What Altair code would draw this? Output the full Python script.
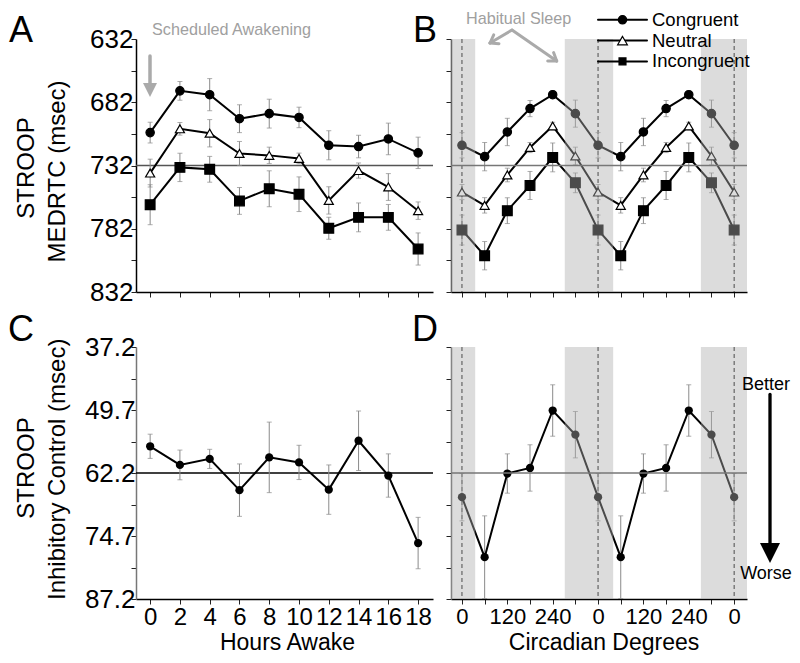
import math
import altair as alt
import pandas as pd

FONT = "Liberation Sans"
ERR = "#8a8a8a"
GREY_TXT = "#a0a0a0"

# ---------------- data ----------------
conditions = ["Congruent", "Neutral", "Incongruent"]
cond_shapes = ["circle", "triangle-up", "square"]
cond_fills = ["black", "white", "black"]
cond_sizes = [70, 95, 48]

hours = [0, 2, 4, 6, 8, 10, 12, 14, 16, 18]
a_congruent = [706, 673, 676, 695, 691, 694, 716, 717, 711, 722]
a_congruent_err = [8.2, 7.4, 12.7, 11.0, 11.4, 8.1, 11.5, 8.9, 12.5, 12.4]
a_neutral = [738, 703, 706.5, 722.5, 724, 726.4, 759.6, 736, 749, 767.7]
a_neutral_err = [11.0, 5.0, 10.8, 9.5, 6.5, 4.2, 10.8, 6.0, 10.6, 6.9]
a_incongruent = [763, 733.5, 735, 760, 750.4, 754.7, 781.6, 773, 773, 798]
a_incongruent_err = [15.8, 11.2, 10.2, 10.6, 14.2, 13.7, 8.7, 11.4, 10.2, 12.7]

phase = [0, 60, 120, 180, 240, 300]
b_congruent = [716, 725, 705.5, 687, 676, 691]
b_congruent_err = [10.0, 11.2, 10.8, 6.4, 3.0, 10.7]
b_neutral = [753, 763.5, 739.5, 717.8, 700.8, 724.5]
b_neutral_err = [6.0, 6.1, 5.4, 4.0, 3.0, 7.0]
b_incongruent = [783, 803.3, 767.7, 747.8, 725.6, 745.7]
b_incongruent_err = [11.8, 11.2, 10.2, 11.1, 11.4, 7.8]

c_inhib = [56.9, 60.6, 59.4, 65.6, 59.1, 60.1, 65.5, 55.8, 62.7, 76.1]
c_inhib_err = [2.4, 2.95, 1.9, 5.2, 7.0, 3.4, 4.9, 5.9, 4.3, 5.1]

d_inhib = [67.0, 78.9, 62.3, 61.2, 49.8, 54.6]
d_inhib_err = [4.7, 8.2, 3.9, 4.6, 5.1, 4.6]

sleep_start = [-29, 272, 632]
sleep_end = [35, 400, 754]
phase_zero = [0, 360, 720]

rt_ticks = [632, 657, 682, 707, 732, 757, 782, 807, 832]
ic_ticks = [37.2, 43.45, 49.7, 55.95, 62.2, 68.45, 74.7, 80.95, 87.2]
phase_ticks = [0, 60, 120, 180, 240, 300, 360, 420, 480, 540, 600, 660, 720]

# ---------------- frames ----------------
def frame(xs, vals, errs, cond):
    return pd.DataFrame({
        "x": xs, "v": vals,
        "lo": [v - e for v, e in zip(vals, errs)],
        "hi": [v + e for v, e in zip(vals, errs)],
        "cond": cond,
    })

def double(vals):
    return list(vals) + list(vals) + [vals[0]]

phase2 = list(phase) + [p + 360 for p in phase] + [720]

dfA = pd.concat([
    frame(hours, a_congruent, a_congruent_err, "Congruent"),
    frame(hours, a_neutral, a_neutral_err, "Neutral"),
    frame(hours, a_incongruent, a_incongruent_err, "Incongruent"),
])
dfB = pd.concat([
    frame(phase2, double(b_congruent), double(b_congruent_err), "Congruent"),
    frame(phase2, double(b_neutral), double(b_neutral_err), "Neutral"),
    frame(phase2, double(b_incongruent), double(b_incongruent_err), "Incongruent"),
])
dfC = frame(hours, c_inhib, c_inhib_err, "Congruent")
dfD = frame(phase2, double(d_inhib), double(d_inhib_err), "Congruent")

ONE = pd.DataFrame({"k": [0]})

# ---------------- scales / axes ----------------
xs_h = alt.Scale(domain=[-0.95, 19.0], nice=False, zero=False)
xs_p = alt.Scale(domain=[-29, 754], nice=False, zero=False)
ys_rt = alt.Scale(domain=[632, 832], reverse=True, nice=False, zero=False)
ys_ic = alt.Scale(domain=[37.2, 87.2], reverse=True, nice=False, zero=False)

common = dict(grid=False, title=None, labelFlush=False, labelOverlap=False,
              tickColor="#222", tickWidth=1, labelColor="black")

axA_x = alt.Axis(values=hours, labels=False, tickSize=5, domainColor="black", domainWidth=1.5, **common)
axA_y = alt.Axis(values=rt_ticks, labelExpr="datum.value % 50 == 32 ? datum.label : ''",
                 labelFont=FONT, labelFontSize=26, tickSize=5, labelPadding=-2,
                 domainColor="black", domainWidth=1.5, **common)
axB_x = alt.Axis(values=phase_ticks, labels=False, tickSize=5, domainColor="black", domainWidth=1.5, **common)
axB_y = alt.Axis(values=rt_ticks, labels=False, tickSize=5, domainColor="#333", domainWidth=1.5, **common)
axC_x = alt.Axis(values=hours, labelFont=FONT, labelFontSize=24, tickSize=5, labelPadding=1,
                 domainColor="black", domainWidth=1.5, **common)
axC_y = alt.Axis(values=ic_ticks,
                 labelExpr="indexof(['37.2','49.7','62.2','74.7','87.2'], format(datum.value, '.1f')) >= 0 ? format(datum.value, '.1f') : ''",
                 labelFont=FONT, labelFontSize=26, tickSize=5, labelPadding=-4,
                 domainColor="#777", domainWidth=1.5, **common)
axD_x = alt.Axis(values=phase_ticks,
                 labelExpr="datum.value % 120 == 0 ? '' + (datum.value % 360) : ''",
                 labelFont=FONT, labelFontSize=22, tickSize=5, labelPadding=2,
                 domainColor="black", domainWidth=1.5, **common)
axD_y = alt.Axis(values=ic_ticks, labels=False, tickSize=5, domainColor="#666", domainWidth=1.5, **common)

shape_enc = alt.Shape("cond:N", scale=alt.Scale(domain=conditions, range=cond_shapes), legend=None)
fill_enc = alt.Fill("cond:N", scale=alt.Scale(domain=conditions, range=cond_fills), legend=None)
size_enc = alt.Size("cond:N", scale=alt.Scale(domain=conditions, range=cond_sizes), legend=None)


# ---------------- helpers ----------------
def txt(s, x, y, size, color="black", align="center", baseline="alphabetic", angle=0, font=FONT):
    return alt.Chart(ONE).mark_text(text=s, fontSize=size, color=color, align=align,
                                    baseline=baseline, angle=angle, font=font).encode(
        x=alt.value(x), y=alt.value(y))


def seg(x1, y1, x2, y2, color, width, opacity=1):
    return alt.Chart(ONE).mark_rule(color=color, strokeWidth=width, strokeCap="round",
                                    opacity=opacity).encode(
        x=alt.value(x1), y=alt.value(y1), x2=alt.value(x2), y2=alt.value(y2))


def head(x, y, size, color):
    return alt.Chart(ONE).mark_point(shape="M-1,-1L1,-1L0,1Z", filled=True, size=size,
                                     color=color, opacity=1).encode(
        x=alt.value(x), y=alt.value(y))


def chevron(px, py, tx, ty, color, width, arm=9, ang=35):
    dx, dy = tx - px, ty - py
    n = math.hypot(dx, dy)
    ux, uy = dx / n, dy / n
    out = [seg(px, py, tx, ty, color, width)]
    for s in (1, -1):
        a = math.radians(ang) * s
        rx = ux * math.cos(a) - uy * math.sin(a)
        ry = ux * math.sin(a) + uy * math.cos(a)
        out.append(seg(tx, ty, tx - arm * rx, ty - arm * ry, color, width))
    return out


def data_layers(df, xs, ys, ax_x, ax_y, multi):
    X = alt.X("x:Q", scale=xs, axis=ax_x)
    base = alt.Chart(df)
    lay = []
    lay.append(base.mark_rule(color=ERR, strokeWidth=1).encode(
        x=X, y=alt.Y("lo:Q", scale=ys, axis=ax_y), y2="hi:Q"))
    for f in ("lo", "hi"):
        lay.append(base.mark_tick(color=ERR, orient="horizontal", size=5, thickness=1).encode(
            x=X, y=alt.Y(f + ":Q", scale=ys, axis=ax_y)))
    lay.append(base.mark_line(color="black", strokeWidth=2).encode(
        x=X, y=alt.Y("v:Q", scale=ys, axis=ax_y), detail="cond:N"))
    if multi:
        lay.append(base.mark_point(stroke="black", strokeWidth=1.2, opacity=1, fillOpacity=1).encode(
            x=X, y=alt.Y("v:Q", scale=ys, axis=ax_y), shape=shape_enc, fill=fill_enc, size=size_enc))
    else:
        lay.append(base.mark_point(shape="circle", filled=True, color="black", size=68, opacity=1).encode(
            x=X, y=alt.Y("v:Q", scale=ys, axis=ax_y)))
    return lay


def ref_rule(val, ys, ax_y, color):
    return alt.Chart(pd.DataFrame({"r": [val]})).mark_rule(color=color, strokeWidth=1.5).encode(
        y=alt.Y("r:Q", scale=ys, axis=ax_y))


def sleep_layers(xs, ys, ax_x, ax_y, ylo, yhi):
    dash = alt.Chart(pd.DataFrame({"z": phase_zero})).mark_rule(
        color="black", strokeWidth=1, strokeDash=[4, 3]).encode(
        x=alt.X("z:Q", scale=xs, axis=ax_x))
    shade = alt.Chart(pd.DataFrame({"s": sleep_start, "e": sleep_end})).mark_rect(
        color="#adadad", opacity=0.43, clip=True).encode(
        x=alt.X("s:Q", scale=xs, axis=ax_x), x2="e:Q",
        y=alt.Y(datum=ylo, scale=ys, axis=ax_y), y2=alt.Y2(datum=yhi))
    return dash, shade


W, H = 297, 253
WB = 296
H2 = 252

# ---------------- Panel A ----------------
layA = [ref_rule(732, ys_rt, axA_y, "#555")]
layA += data_layers(dfA, xs_h, ys_rt, axA_x, axA_y, True)
layA += [
    seg(0, -30.5, 1, -30.5, "white", 1, opacity=0),   # top headroom for text ascenders
    txt("A", -115, 3, 36),
    txt("STROOP", -109, 129, 24, baseline="middle", angle=270),
    txt("MEDRTC (msec)", -78.5, 132.5, 24, baseline="middle", angle=270),
    txt("Scheduled Awakening", 16, -4, 16.2, color=GREY_TXT, align="left"),
    seg(14, 17, 14, 45, "#aaaaaa", 3.5),
    head(14, 51, 196, "#aaaaaa"),
]
panelA = alt.layer(*layA).properties(width=W, height=H)

# ---------------- Panel B ----------------
dashB, shadeB = sleep_layers(xs_p, ys_rt, axB_x, axB_y, 632, 832)
layB = [dashB]
layB += data_layers(dfB, xs_p, ys_rt, axB_x, axB_y, True)
layB += [shadeB, ref_rule(732, ys_rt, axB_y, "#777")]
layB += [
    txt("B", -26, 3, 36),
    txt("Habitual Sleep", 15, -15, 16.2, color=GREY_TXT, align="left"),
]
layB += chevron(61, -9, 39, 4, "#aaaaaa", 3)
layB += chevron(61, -9, 105.7, 22, "#aaaaaa", 3)
legend_rows = [-19.2, 1.6, 22.4]
for name, shp, fil, sz, ry in zip(conditions, cond_shapes, cond_fills, cond_sizes, legend_rows):
    layB.append(seg(147, ry, 196, ry, "black", 2))
    layB.append(alt.Chart(ONE).mark_point(shape=shp, fill=fil, stroke="black", strokeWidth=1.2,
                                          size=sz, opacity=1, fillOpacity=1).encode(
        x=alt.value(171.5), y=alt.value(ry)))
    layB.append(txt(name, 201, ry, 18.5, align="left", baseline="middle"))
panelB = alt.layer(*layB).properties(width=WB, height=H)

# ---------------- Panel C ----------------
layC = [ref_rule(62.2, ys_ic, axC_y, "black")]
layC += data_layers(dfC, xs_h, ys_ic, axC_x, axC_y, False)
layC += [
    txt("C", -115, -6, 36),
    txt("STROOP", -109, 121, 24, baseline="middle", angle=270),
    txt("Inhibitory Control (msec)", -78.5, 122.3, 24, baseline="middle", angle=270),
    txt("Hours Awake", 151.5, 303, 23),
    seg(0, 308, 1, 308, "white", 1, opacity=0),      # bottom headroom for descenders
]
panelC = alt.layer(*layC).properties(width=W, height=H2)

# ---------------- Panel D ----------------
dashD, shadeD = sleep_layers(xs_p, ys_ic, axD_x, axD_y, 37.2, 87.2)
layD = [dashD]
layD += data_layers(dfD, xs_p, ys_ic, axD_x, axD_y, False)
layD += [shadeD, ref_rule(62.2, ys_ic, axD_y, "#777")]
layD += [
    txt("D", -26, -6, 36),
    txt("Circadian Degrees", 153, 303, 23),
    txt("Better", 315, 42.6, 18),
    seg(319, 47.5, 319, 196, "black", 3.3),
    head(319, 206, 400, "black"),
    txt("Worse", 315, 231.7, 18),
]
panelD = alt.layer(*layD).properties(width=WB, height=H2)

chart = alt.concat(
    panelA, panelB, panelC, panelD,
    columns=2,
    spacing={"row": 55, "column": 18},
    bounds="flush",
).properties(
    padding={"left": 0, "top": 0, "right": 0, "bottom": 0}
).configure(font=FONT).configure_view(stroke=None)

chart.save("out.html", embed_options={"renderer": "svg", "actions": False})
